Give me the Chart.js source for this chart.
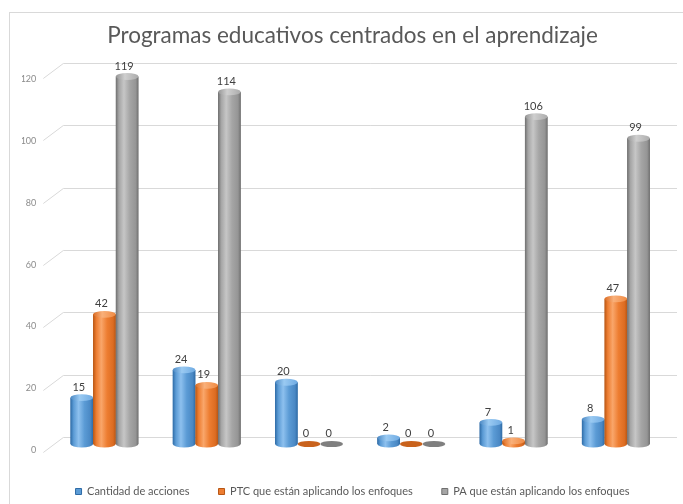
<!DOCTYPE html>
<html><head><meta charset="utf-8">
<script src="https://cdn.jsdelivr.net/npm/chart.js@4.4.1/dist/chart.umd.min.js"></script>
<style>html,body{margin:0;padding:0;background:#fff;} #wrap{position:relative;width:683px;height:504px;}</style>
</head><body><div id="wrap"><canvas id="c" width="683" height="504"></canvas></div>
<script>
const categories = ['2015-2016','2016-2017','2017-2018','2018-2019','2019-2020','2020-2021'];
const seriesNames = ['Cantidad de acciones','PTC que están aplicando los enfoques','PA que están aplicando los enfoques'];
const cantidadAcciones = [15,24,20,2,7,8];
const ptcEnfoques = [42,19,0,0,1,47];
const paEnfoques = [119,114,0,0,106,99];
const yTicks = [0,20,40,60,80,100,120];
const titleText = 'Programas educativos centrados en el aprendizaje';

const FONT = 'Lato';
const PLOT = {left: 53.3, top: 73.4, bottom: 444, right: 667};
const PAD = {left: 22, right: 0, top: 0, bottom: -3};
const palettes = [
  {base:'#5B9BD5', dark:'#2E6BA6', mid:'#4A88C4', light:'#8DC0EE', cap:'#6EAAE2', capLight:'#9ACAF2', flat:'#3F7DBA'},
  {base:'#ED7D31', dark:'#B85614', mid:'#DC6C22', light:'#F9A66A', cap:'#F08A42', capLight:'#F9B07A', flat:'#C9621C'},
  {base:'#A5A5A5', dark:'#6F6F6F', mid:'#959595', light:'#C6C6C6', cap:'#ABABAB', capLight:'#CFCFCF', flat:'#7F7F7F'}
];
const seriesValues = [cantidadAcciones, ptcEnfoques, paEnfoques];

const framePlugin = {
  id: 'frame',
  beforeDraw(chart) {
    const ctx = chart.ctx;
    ctx.save();
    ctx.strokeStyle = '#D9D9D9'; ctx.lineWidth = 1;
    ctx.strokeRect(9.5, 12.5, chart.width + 20, chart.height + 20);
    ctx.restore();
  }
};

const gridPlugin = {
  id: 'grid3d',
  beforeDatasetsDraw(chart) {
    const ctx = chart.ctx, ys = chart.scales.y, ca = chart.chartArea;
    ctx.save();
    ctx.strokeStyle = '#D9D9D9'; ctx.lineWidth = 1;
    yTicks.forEach(v => {
      const py = ys.getPixelForValue(v);
      const by = Math.round(py - 7 - 0.029 * v) + 0.5;
      ctx.beginPath();
      ctx.moveTo(ca.left - 10, by + 15);
      ctx.lineTo(ca.left + 10, by);
      ctx.lineTo(ca.right + 10, by);
      ctx.stroke();
    });
    ctx.restore();
  }
};

const cylinderPlugin = {
  id: 'cylinders',
  afterDatasetsDraw(chart) {
    const ctx = chart.ctx;
    ctx.save();
    chart.data.datasets.forEach((ds, di) => {
      const meta = chart.getDatasetMeta(di);
      const pal = palettes[di];
      meta.data.forEach((bar, i) => {
        const {x, y, base, width} = bar.getProps(['x','y','base','width'], true);
        const l = x - width / 2, r = x + width / 2, rx = width / 2;
        const ry = Math.max(2.8, width * 0.15);
        const h = base - y;
        if (h > 0.8) {
          const g = ctx.createLinearGradient(l, 0, r, 0);
          g.addColorStop(0, pal.dark); g.addColorStop(0.14, pal.base);
          g.addColorStop(0.36, pal.light); g.addColorStop(0.62, pal.base);
          g.addColorStop(0.88, pal.mid); g.addColorStop(1, pal.dark);
          ctx.fillStyle = g;
          ctx.beginPath();
          ctx.moveTo(l, y); ctx.lineTo(l, base);
          ctx.ellipse(x, base, rx, ry, 0, Math.PI, 0, true);
          ctx.lineTo(r, y); ctx.closePath(); ctx.fill();
          const gc = ctx.createLinearGradient(l, 0, r, 0);
          gc.addColorStop(0, pal.mid); gc.addColorStop(0.4, pal.capLight);
          gc.addColorStop(1, pal.cap);
          ctx.fillStyle = gc;
          ctx.beginPath(); ctx.ellipse(x, y, rx, ry, 0, 0, Math.PI * 2); ctx.fill();
        } else {
          ctx.fillStyle = pal.flat;
          ctx.beginPath(); ctx.ellipse(x, base, rx, ry * 0.9, 0, 0, Math.PI * 2); ctx.fill();
        }
        ctx.fillStyle = '#404040';
        ctx.font = '11px ' + FONT;
        ctx.textAlign = 'center'; ctx.textBaseline = 'middle';
        ctx.fillText(String(ds.data[i]), x - 3, y - ry - 7);
      });
    });
    ctx.restore();
  }
};

const datasets = seriesNames.map((name, i) => ({
  label: name,
  data: seriesValues[i],
  backgroundColor: palettes[i].base,
  borderColor: palettes[i].dark,
  borderWidth: 1,
  categoryPercentage: 0.665,
  barPercentage: 1.0
}));

const chart = new Chart(document.getElementById('c'), {
  type: 'bar',
  data: { labels: categories, datasets },
  plugins: [framePlugin, gridPlugin, cylinderPlugin],
  options: {
    responsive: false, animation: false, devicePixelRatio: 1,
    layout: { padding: PAD },
    plugins: {
      title: { display: true, text: titleText, color: '#595959',
        font: { family: FONT, size: 22.5, weight: 'normal', lineHeight: 1.2 },
        padding: { top: 22.5, bottom: PLOT.top - 22.5 - 27 } },
      legend: { position: 'bottom',
        labels: { boxWidth: 6, boxHeight: 6, padding: 29, color: '#595959',
          font: { family: FONT, size: 11 } } },
      tooltip: { enabled: false }
    },
    scales: {
      x: { grid: { display: false, drawTicks: false }, border: { display: false },
        ticks: { color: '#595959', font: { family: FONT, size: 11 }, padding: 16, labelOffset: -10, maxRotation: 0 },
        afterFit(s) { s.height = s.chart.height - PLOT.bottom - s.chart.legend.height - PAD.bottom; } },
      y: { min: 0, max: 120, grid: { display: false, drawTicks: false }, border: { display: false },
        afterBuildTicks(s) { s.ticks = yTicks.map(v => ({ value: v })); },
        ticks: { color: '#8C8C8C', font: { family: FONT, size: 9 }, padding: 17, labelOffset: 6 },
        afterFit(s) { s.width = PLOT.left - PAD.left; } },
      y2: { position: 'right', display: true, grid: { display: false, drawTicks: false }, border: { display: false },
        ticks: { display: false },
        afterFit(s) { s.width = 683 - PLOT.right - PAD.right; } }
    }
  }
});
</script>
</body></html>
